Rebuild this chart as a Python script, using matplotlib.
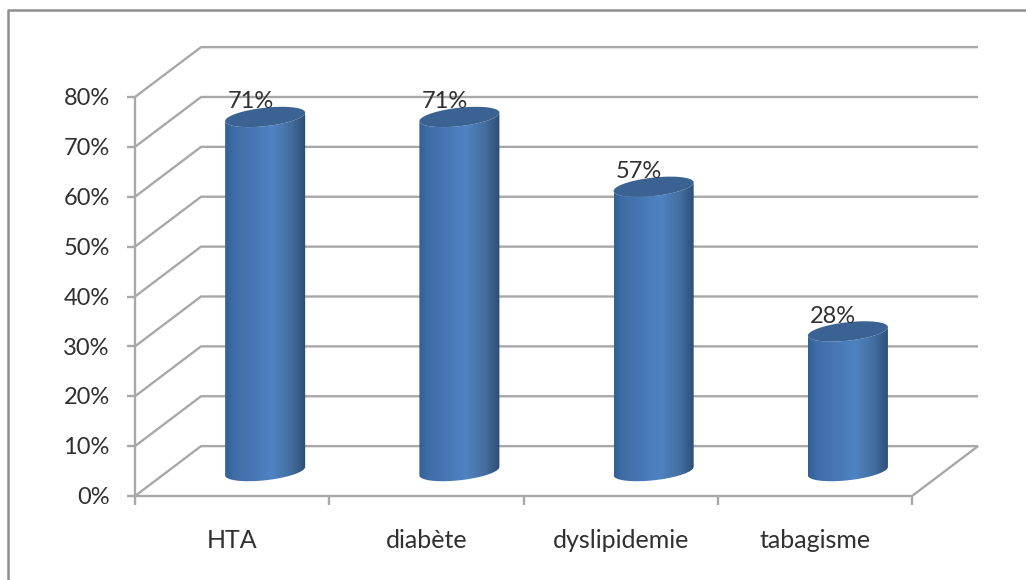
import numpy as np
import matplotlib
matplotlib.use("Agg")
import matplotlib.pyplot as plt
from matplotlib.colors import LinearSegmentedColormap
from matplotlib.lines import Line2D
from matplotlib.patches import Polygon

categories = ["HTA", "diabète", "dyslipidemie", "tabagisme"]
values = [71, 71, 57, 28]
y_ticks = [0, 10, 20, 30, 40, 50, 60, 70, 80]

W, H = 1026, 580
GRID = "#a8a8a8"
TEXT = "#303030"
FONT = "Lato"

# 3D depth of the chart box, in axis units
DEPTH_X = 0.34
DEPTH_Y = 10
BAR_W = 0.412
CAP_H = 1.85
CAP_TILT = 0.85

fig = plt.figure(figsize=(W / 100, H / 100), dpi=100, facecolor="white")
ax = fig.add_axes([135 / W, 1 - 496 / H, 777 / W, 399 / H])
ax.set_xlim(0, len(categories))
ax.set_ylim(0, 80)
ax.axis("off")

# outer chart border: only the top and left edges fall inside the canvas
frame = dict(color="#8e8e8e", linewidth=1.8, transform=fig.transFigure)
fig.add_artist(Line2D([8 / W, 8 / W, 1], [0, 1 - 10 / H, 1 - 10 / H], **frame))

line = dict(color=GRID, linewidth=1.7, clip_on=False, solid_capstyle="butt", zorder=1)
n = len(categories)

# back wall gridlines with their diagonals on the side wall
for v in y_ticks:
    ax.plot([0, DEPTH_X, n + DEPTH_X], [v, v + DEPTH_Y, v + DEPTH_Y], **line)

# floor, value axis and outward ticks
ax.plot([0, n, n + DEPTH_X], [0, 0, DEPTH_Y], **line)
ax.plot([0, 0], [0, 80], **line)
for v in y_ticks:
    ax.plot([-0.041, 0], [v, v], **line)
    ax.text(-0.13, v - 0.35, f"{v}%", ha="right", va="center", fontsize=17,
            family=FONT, color=TEXT, clip_on=False)
for i in range(n + 1):
    ax.plot([i, i], [0, -1.8], **line)
for i, name in enumerate(categories):
    ax.text(i + 0.5, -8.9, name, ha="center", va="center", fontsize=18,
            family=FONT, color=TEXT, clip_on=False)

cmap = LinearSegmentedColormap.from_list(
    "cyl", [(0, "#325f96"), (0.1, "#3e6ca6"), (0.58, "#5083c3"),
            (0.82, "#436e9f"), (1, "#2d4c75")])
gradient = np.linspace(0, 1, 256).reshape(1, -1)
t = np.linspace(0, 2 * np.pi, 181)

for i, v in enumerate(values):
    cx = i + 0.5 + DEPTH_X / 2
    base = DEPTH_Y / 2
    top = base + v
    half = BAR_W / 2

    # outline: lower arc of the base ellipse, then the lower arc of the top ellipse
    lower = np.linspace(np.pi, 2 * np.pi, 91)
    ex = half * np.cos(lower)
    ey = CAP_H * np.sin(lower) + CAP_TILT * np.cos(lower)
    body_x = np.r_[cx + ex, (cx + ex)[::-1]]
    body_y = np.r_[base + ey, (top + ey)[::-1]]
    body = Polygon(np.c_[body_x, body_y], closed=True, transform=ax.transData,
                   facecolor="none", edgecolor="none")
    ax.add_patch(body)
    im = ax.imshow(gradient, extent=[cx - half, cx + half, base - 3, top + 3],
                   aspect="auto", cmap=cmap, zorder=3, interpolation="bilinear")
    im.set_clip_path(body)

    cap_x = cx + half * np.cos(t)
    cap_y = top + CAP_H * np.sin(t) + CAP_TILT * np.cos(t)
    ax.add_patch(Polygon(np.c_[cap_x, cap_y], closed=True, facecolor="#3a6394",
                         edgecolor="none", zorder=4, clip_on=False))

    ax.text(cx - 0.075, v + 8.0, f"{v}%", ha="center", va="center", fontsize=17,
            family=FONT, color=TEXT, zorder=5, clip_on=False)

ax.set_xlim(0, n)
ax.set_ylim(0, 80)
fig.savefig("out.png", dpi=100, facecolor="white")
